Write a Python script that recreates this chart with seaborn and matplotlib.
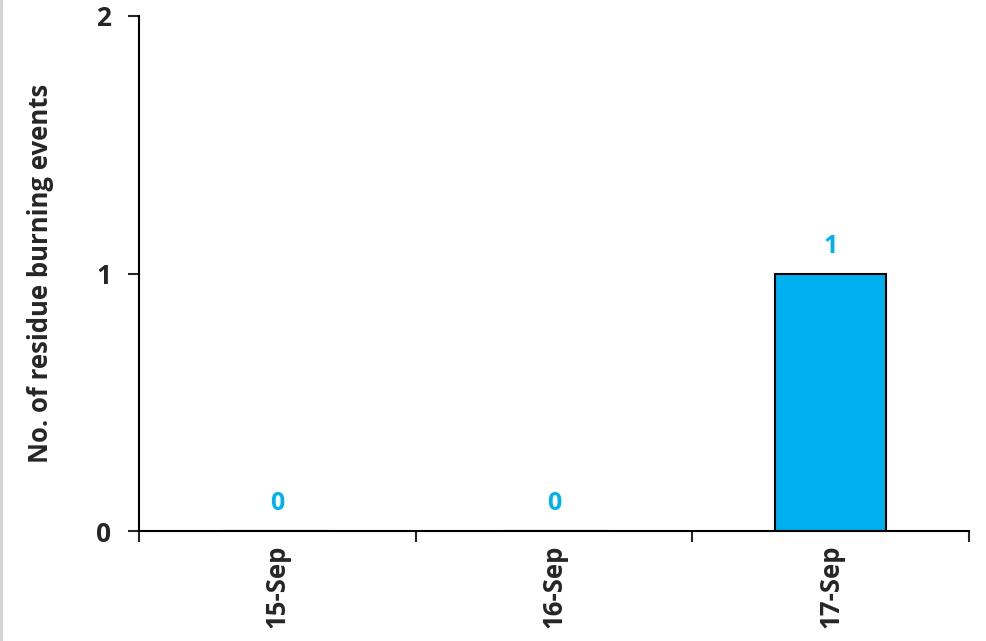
import numpy as np
import pandas as pd
import matplotlib
matplotlib.use("Agg")
import matplotlib.pyplot as plt
import seaborn as sns

# data
dates = ["15-Sep", "16-Sep", "17-Sep"]
events = [0, 0, 1]
y_ticks = [0, 1, 2]

BAR_COLOR = "#00B0F0"

sns.set_style("white")
plt.rcParams["font.family"] = ["Open Sans", "DejaVu Sans"]
plt.rcParams["font.weight"] = "bold"

df = pd.DataFrame({"date": dates, "events": events})

fig = plt.figure(figsize=(9.87, 6.41), dpi=100)
ax = fig.add_axes([139 / 987, 110 / 641, 830 / 987, 515 / 641])

sns.barplot(data=df, x="date", y="events", color=BAR_COLOR, width=0.4,
            edgecolor="black", linewidth=1.5, saturation=1, ax=ax)

ax.set_xlim(-0.5, len(dates) - 0.5)
ax.set_ylim(0, 2)
ax.set_yticks(y_ticks)
ax.set_yticklabels([str(t) for t in y_ticks], fontsize=19, fontweight="bold")

# labels centred under bars, ticks on category boundaries
ax.set_xticks(range(len(dates)))
ax.set_xticklabels(dates, rotation=90, fontsize=18.5, fontweight="bold")
ax.tick_params(axis="x", which="major", length=0, pad=10)
ax.set_xticks(np.arange(-0.5, len(dates), 1.0), minor=True)
ax.tick_params(axis="x", which="minor", length=8, width=1.5, direction="out",
               bottom=True)
ax.tick_params(axis="y", length=8, width=1.5, direction="out", left=True, pad=12)

ax.set_xlabel("")
ax.set_ylabel("No. of residue burning events", fontsize=18.5, fontweight="bold",
              labelpad=30)

for spine in ["top", "right"]:
    ax.spines[spine].set_visible(False)
for spine in ["left", "bottom"]:
    ax.spines[spine].set_color("black")
    ax.spines[spine].set_linewidth(1.5)

for i, v in enumerate(events):
    ax.annotate(str(v), (i, v), xytext=(0, 19.5), textcoords="offset points",
                ha="center", va="center", color=BAR_COLOR, fontsize=18,
                fontweight="bold")

# thin grey edge on the left like the source
fig.add_artist(plt.Line2D([0.001, 0.001], [0, 1], color="#d0d0d0", linewidth=2,
                          transform=fig.transFigure))

fig.savefig("out.png", dpi=100)
